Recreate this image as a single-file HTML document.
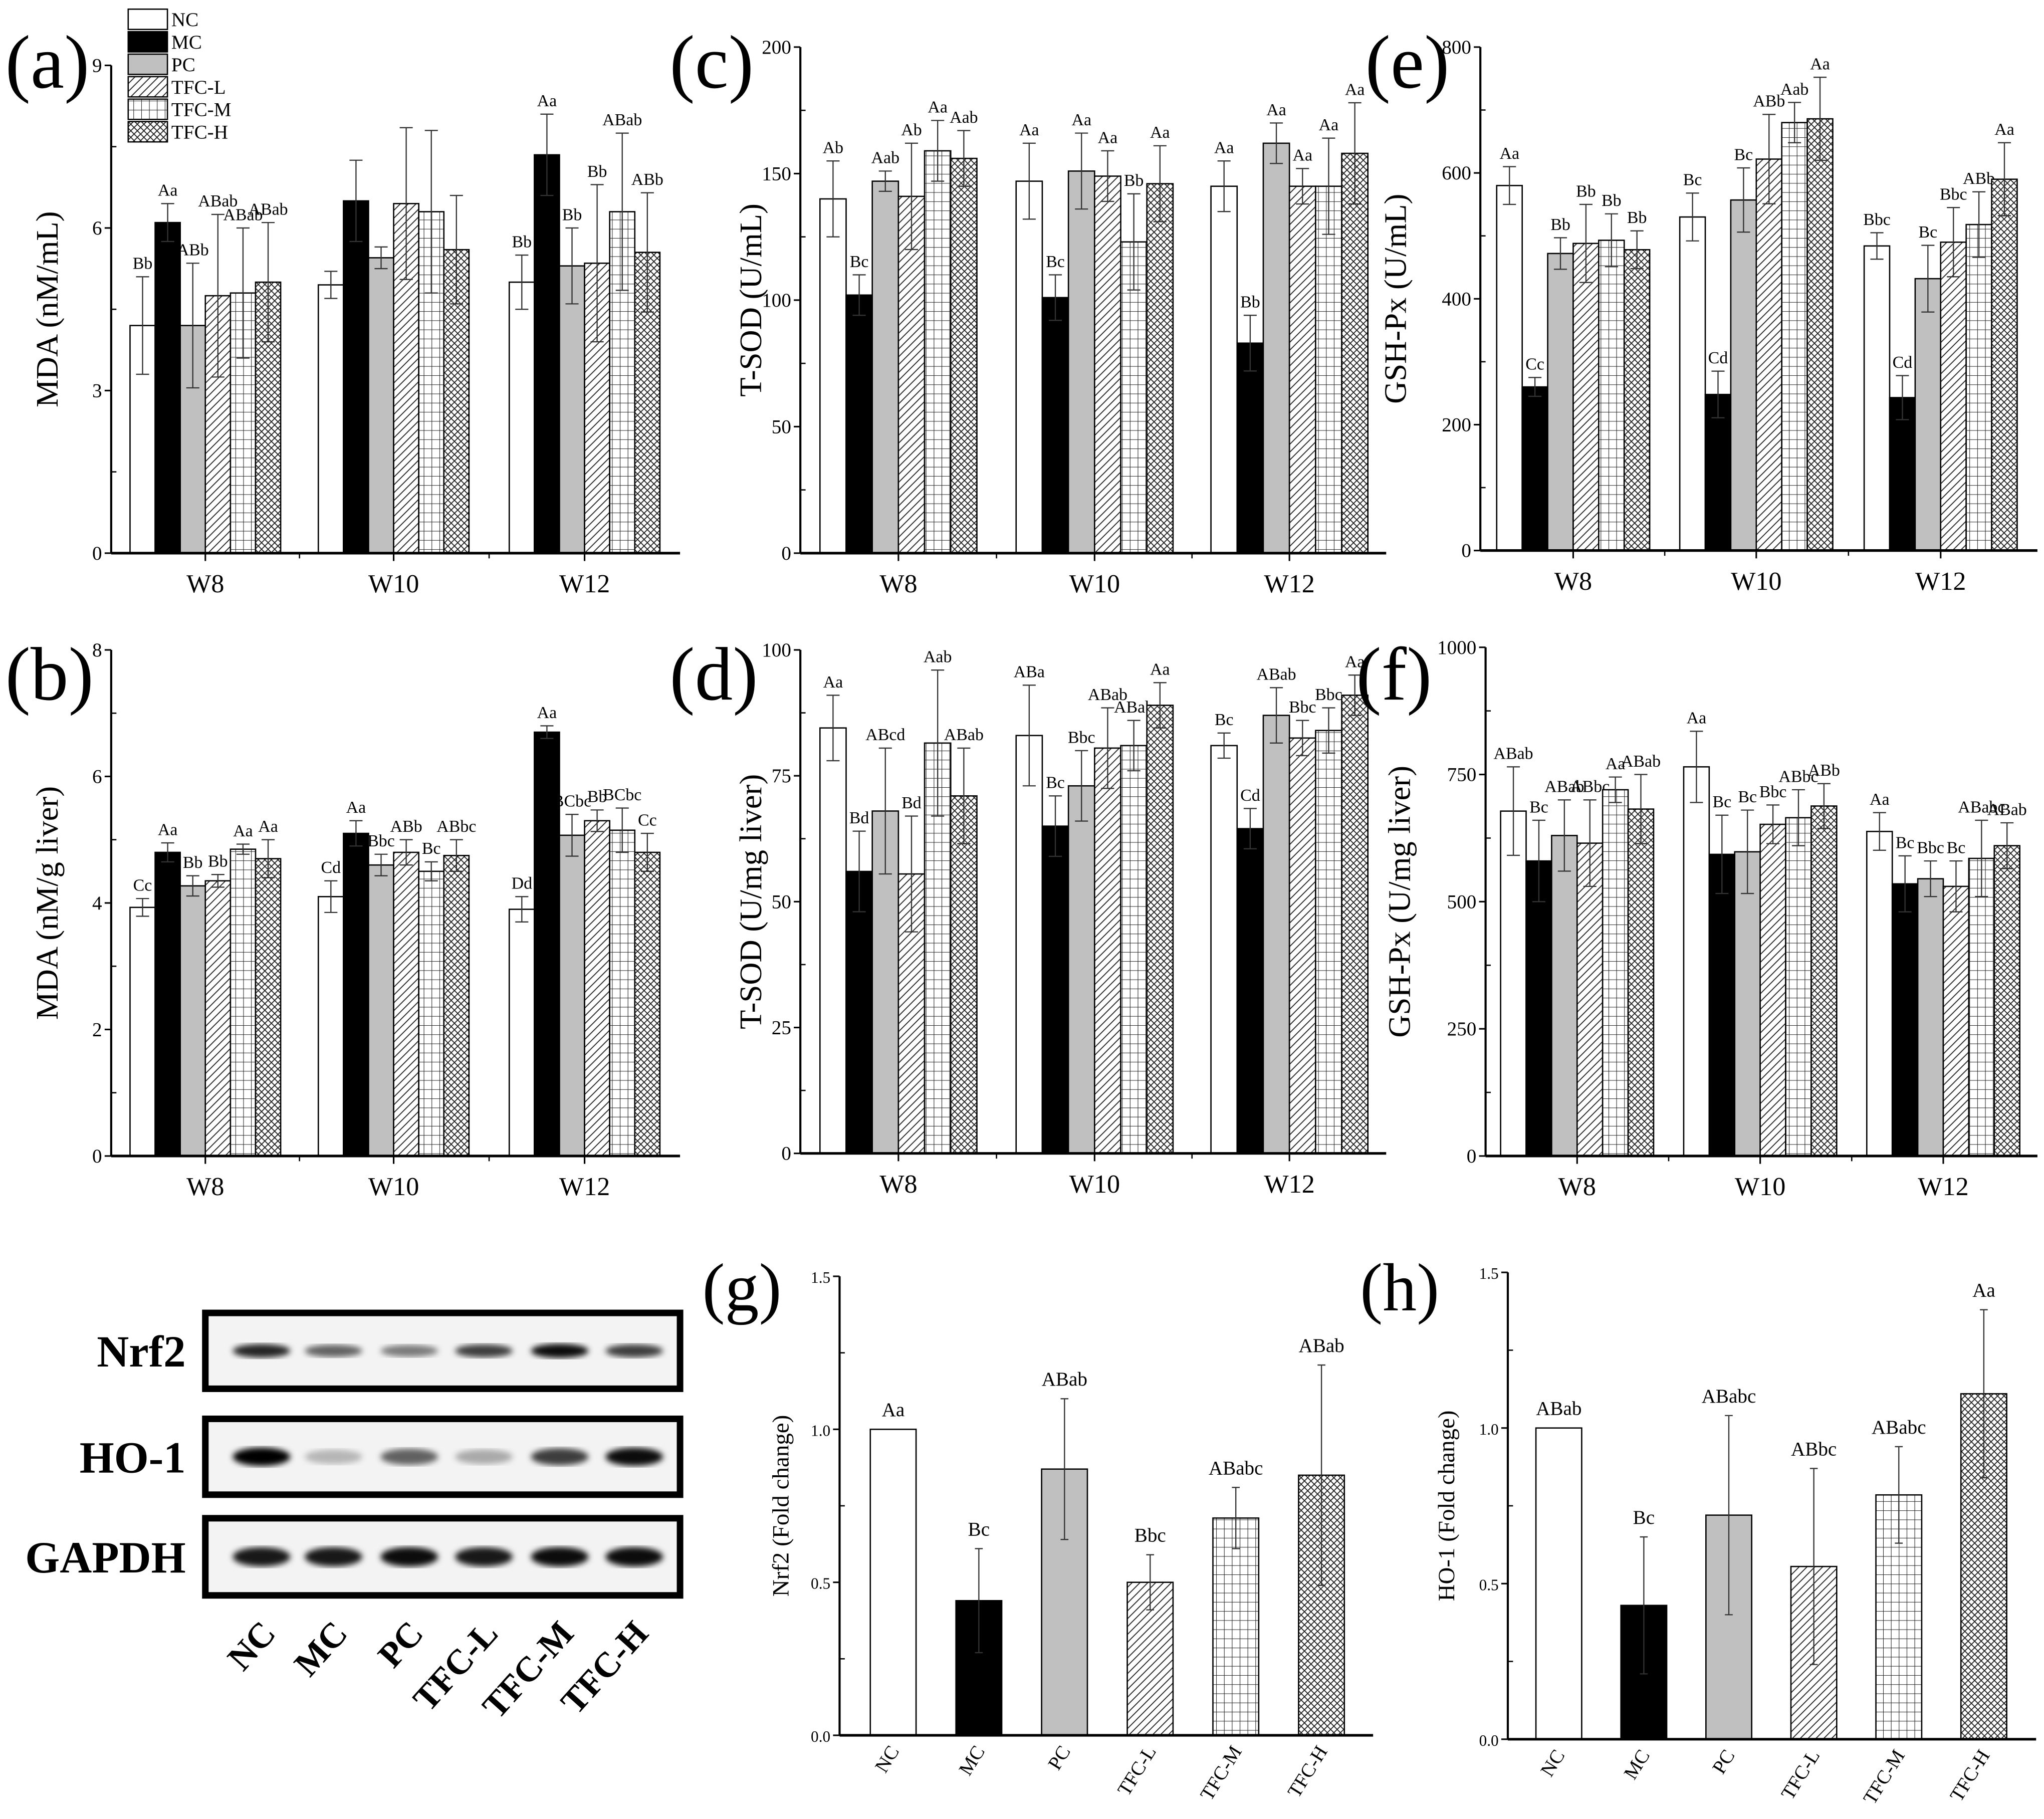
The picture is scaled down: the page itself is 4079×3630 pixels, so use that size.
<!DOCTYPE html>
<html><head><meta charset="utf-8"><style>
html,body{margin:0;padding:0;background:#fff;}
svg{display:block;font-family:"Liberation Serif",serif;}
</style></head><body>
<svg id="fig" xmlns="http://www.w3.org/2000/svg" width="4079" height="3630" viewBox="0 0 1563 1391">
<defs>
<pattern id="p-diag" patternUnits="userSpaceOnUse" width="6" height="6"><rect width="6" height="6" fill="#fff"/><path d="M-1,7 L7,-1 M-4,4 L4,-4 M2,10 L10,2" stroke="#222" stroke-width="0.7"/></pattern>
<pattern id="p-grid" patternUnits="userSpaceOnUse" width="6" height="7"><rect width="6" height="7" fill="#fff"/><path d="M0,0 H6 M0,0 V7" stroke="#222" stroke-width="0.8"/></pattern>
<pattern id="p-cross" patternUnits="userSpaceOnUse" width="5" height="5"><rect width="5" height="5" fill="#fff"/><path d="M0,0 L5,5 M5,0 L0,5" stroke="#222" stroke-width="0.7"/></pattern>
<filter id="blur"><feGaussianBlur stdDeviation="2.2"/></filter>
</defs>
<g id="root"></g>
</svg>
<script>
const NS='http://www.w3.org/2000/svg';
const root=document.getElementById('root');
const fills=['#fff','#000','#c0c0c0','url(#p-diag)','url(#p-grid)','url(#p-cross)'];
const groups=['NC','MC','PC','TFC-L','TFC-M','TFC-H'];
const weeks=['W8','W10','W12'];

// panel a
const aVals=[[4.2,6.1,4.2,4.75,4.8,5.0],[4.95,6.5,5.45,6.45,6.3,5.6],[5.0,7.35,5.3,5.35,6.3,5.55]];
const aErr=[[0.9,0.35,1.15,1.5,1.2,1.1],[0.25,0.75,0.2,1.4,1.5,1.0],[0.5,0.75,0.7,1.45,1.45,1.1]];
const aLab=[['Bb','Aa','ABb','ABab','ABab','ABab'],['','','','','',''],['Bb','Aa','Bb','Bb','ABab','ABb']];
const aTicks=[0,3,6,9];
// panel c
const cVals=[[140,102,147,141,159,156],[147,101,151,149,123,146],[145,83,162,145,145,158]];
const cErr=[[15,8,4,21,12,11],[15,9,15,10,19,15],[10,11,8,7,19,20]];
const cLab=[['Ab','Bc','Aab','Ab','Aa','Aab'],['Aa','Bc','Aa','Aa','Bb','Aa'],['Aa','Bb','Aa','Aa','Aa','Aa']];
const cTicks=[0,50,100,150,200];
// panel e
const eVals=[[580,260,472,488,493,478],[530,248,557,622,680,686],[484,243,432,490,518,590]];
const eErr=[[30,15,25,62,42,30],[38,37,51,71,32,66],[21,35,53,55,52,58]];
const eLab=[['Aa','Cc','Bb','Bb','Bb','Bb'],['Bc','Cd','Bc','ABb','Aab','Aa'],['Bbc','Cd','Bc','Bbc','ABb','Aa']];
const eTicks=[0,200,400,600,800];
// panel b
const bVals=[[3.93,4.8,4.27,4.35,4.85,4.7],[4.1,5.1,4.6,4.8,4.5,4.75],[3.9,6.7,5.07,5.3,5.15,4.8]];
const bErr=[[0.14,0.15,0.16,0.1,0.08,0.3],[0.25,0.2,0.17,0.2,0.15,0.25],[0.2,0.1,0.33,0.17,0.35,0.3]];
const bLab=[['Cc','Aa','Bb','Bb','Aa','Aa'],['Cd','Aa','Bbc','ABb','Bc','ABbc'],['Dd','Aa','BCbc','Bb','BCbc','Cc']];
const bTicks=[0,2,4,6,8];
// panel d
const dVals=[[84.5,56,68,55.5,81.5,71],[83,65,73,80.5,81,89],[81,64.5,87,82.5,84,91]];
const dErr=[[6.5,8,12.5,11.5,14.5,9.5],[10,6,7,8,5,4.5],[2.5,4,5.5,3.5,4.5,4]];
const dLab=[['Aa','Bd','ABcd','Bd','Aab','ABab'],['ABa','Bc','Bbc','ABab','ABab','Aa'],['Bc','Cd','ABab','Bbc','Bbc','Aa']];
const dTicks=[0,25,50,75,100];
// panel f
const fVals=[[678,580,630,615,720,682],[765,593,598,652,665,688],[638,535,545,530,585,610]];
const fErr=[[87,80,70,85,25,68],[70,77,82,38,55,44],[37,55,35,50,75,45]];
const fLab=[['ABab','Bc','ABab','ABbc','Aa','ABab'],['Aa','Bc','Bc','Bbc','ABbc','ABb'],['Aa','Bc','Bbc','Bc','ABabc','ABab']];
const fTicks=[0,250,500,750,1000];
// panel g
const gVals=[1.0,0.44,0.87,0.5,0.71,0.85];
const gErr=[0,0.17,0.23,0.09,0.1,0.36];
const gLab=['Aa','Bc','ABab','Bbc','ABabc','ABab'];
// panel h
const hVals=[1.0,0.43,0.72,0.555,0.785,1.11];
const hErr=[0,0.22,0.32,0.315,0.155,0.27];
const hLab=['ABab','Bc','ABabc','ABbc','ABabc','Aa'];
const ghTicks=[0,0.5,1.0,1.5];

function el(tag,attrs,parent){const e=document.createElementNS(NS,tag);for(const k in attrs)e.setAttribute(k,attrs[k]);(parent||root).appendChild(e);return e;}
function txt(s,attrs,parent){const e=el('text',attrs,parent);e.textContent=s;return e;}

function yScale(p){return v=>p.y0-(v-p.ticks[0])/(p.ticks[p.ticks.length-1]-p.ticks[0])*(p.y0-p.yTop);}

function axes(p,g){
  const y=yScale(p);
  const ax=el('line',{x1:p.x0,y1:p.y0,x2:p.x0,y2:p.yTop,stroke:'#000','stroke-width':1.6},g);
  
  
  const xa=el('line',{x1:p.x0,y1:p.y0,x2:p.xEnd,y2:p.y0,stroke:'#000','stroke-width':2},g);
  
  
  p.ticks.forEach((t,i)=>{
    el('line',{x1:p.x0-5,y1:y(t),x2:p.x0,y2:y(t),stroke:'#000','stroke-width':1.2},g);
    if(i<p.ticks.length-1){const m=(t+p.ticks[i+1])/2;el('line',{x1:p.x0,y1:y(m),x2:p.x0+4,y2:y(m),stroke:'#000','stroke-width':1},g);}
    const tl=txt(p.fmt?p.fmt(t):String(t),{x:p.x0-7,y:y(t)+5,'text-anchor':'end','font-size':p.tfs||15},g);
    
    
  });
  const yt=txt(p.title,{x:0,y:0,'text-anchor':'middle','font-size':p.titleFs||24,transform:`translate(${p.titleX},${(p.y0+p.yTop)/2}) rotate(-90)`},g);
  
  
  const pl=txt(p.label,{x:p.labX,y:p.labY,'font-size':p.labFs||58},g);
  
  
}

function bar(g,x,w,y,val,err,lab,fill,p,capW){
  const yv=y(val),y0=y(0);
  const r=el('rect',{x:x-w/2,y:yv,width:w,height:y0-yv,fill:fill,stroke:'#000','stroke-width':1},g);
  
  
  if(err>0){
    const yt=y(val+err),yb=y(val-err);
    const eb=el('path',{d:`M${x},${yt}V${yb}M${x-capW},${yt}H${x+capW}M${x-capW},${yb}H${x+capW}`,stroke:'#333','stroke-width':0.9,fill:'none'},g);
    
    
  }
  if(lab){
    const l=txt(lab,{x:x,y:y(val+err)-(p.lgap||6),'text-anchor':'middle','font-size':p.lfs||13},g);
    
    
  }
}

function groupPanel(p,vals,err,labs,name){
  const g=el('g',{});
  
  
  const y=yScale(p);
  vals.forEach((wk,wi)=>{
    const c=p.centers[wi];
    wk.forEach((v,si)=>{
      const x=c+(si-2.5)*p.bw;
      bar(g,x,p.bw,y,v,err[wi][si],labs[wi][si],fills[si],p,5);
    });
  });
  axes(p,g);
  p.centers.forEach((c,wi)=>{
    el('line',{x1:c,y1:p.y0,x2:c,y2:p.y0+6,stroke:'#000','stroke-width':1.2},g);
    if(wi<p.centers.length-1){const m=(c+p.centers[wi+1])/2;el('line',{x1:m,y1:p.y0,x2:m,y2:p.y0+4,stroke:'#000','stroke-width':1},g);}
    const t=txt(weeks[wi],{x:c,y:p.y0+30,'text-anchor':'middle','font-size':20},g);
    
    
  });
}

function singlePanel(p,vals,err,labs,name){
  const g=el('g',{});
  
  
  const y=yScale(p);
  vals.forEach((v,i)=>{
    const x=p.first+i*p.step;
    bar(g,x,35,y,v,err[i],labs[i],fills[i],p,3);
    const t=txt(groups[i],{x:0,y:0,'text-anchor':'end','font-size':15,transform:`translate(${x+5},${p.y0+12}) rotate(-58)`},g);
    
    
  });
  axes(p,g);
}

const fmt1=t=>t.toFixed(1);
groupPanel({x0:85,xEnd:520,y0:423,yTop:50,ticks:aTicks,centers:[157,301,447],bw:19.2,title:'MDA (nM/mL)',titleX:44,label:'(a)',labX:4,labY:67},aVals,aErr,aLab,'panel-a-serum-mda');
groupPanel({x0:612,xEnd:1060,y0:423,yTop:36,ticks:cTicks,centers:[687,837,986],bw:20,title:'T-SOD (U/mL)',titleX:582,label:'(c)',labX:512,labY:67},cVals,cErr,cLab,'panel-c-serum-tsod');
groupPanel({x0:1132,xEnd:1558,y0:421,yTop:36,ticks:eTicks,centers:[1203,1343,1484],bw:19.5,title:'GSH-Px (U/mL)',titleX:1075,label:'(e)',labX:1044,labY:67},eVals,eErr,eLab,'panel-e-serum-gshpx');
groupPanel({x0:85,xEnd:520,y0:884,yTop:497,ticks:bTicks,centers:[157,301,447],bw:19.2,title:'MDA (nM/g liver)',titleX:44,label:'(b)',labX:4,labY:535},bVals,bErr,bLab,'panel-b-liver-mda');
groupPanel({x0:612,xEnd:1060,y0:882,yTop:497,ticks:dTicks,centers:[687,837,986],bw:20,title:'T-SOD (U/mg liver)',titleX:582,label:'(d)',labX:512,labY:535},dVals,dErr,dLab,'panel-d-liver-tsod');
groupPanel({x0:1136,xEnd:1558,y0:884,yTop:495,ticks:fTicks,centers:[1206,1346,1486],bw:19.5,title:'GSH-Px (U/mg liver)',titleX:1078,label:'(f)',labX:1037,labY:535},fVals,fErr,fLab,'panel-f-liver-gshpx');
singlePanel({x0:642,xEnd:1050,y0:1327,yTop:976,ticks:ghTicks,fmt:fmt1,tfs:12,first:683,step:65.5,title:'Nrf2 (Fold change)',titleX:603,titleFs:18,label:'(g)',labX:537,labY:1002,labFs:52,lfs:15,lgap:10},gVals,gErr,gLab,'panel-g-nrf2');
singlePanel({x0:1153,xEnd:1557,y0:1330,yTop:973,ticks:ghTicks,fmt:fmt1,tfs:12,first:1192,step:65,title:'HO-1 (Fold change)',titleX:1112,titleFs:18,label:'(h)',labX:1040,labY:1002,labFs:52,lfs:15,lgap:10},hVals,hErr,hLab,'panel-h-ho1');

// legend
const lg=el('g',{});


groups.forEach((n,i)=>{
  const yy=7+i*17.2;
  const r=el('rect',{x:98,y:yy,width:30,height:15.5,fill:fills[i],stroke:'#000','stroke-width':1},lg);
  
  
  const t=txt(n,{x:131,y:yy+13,'font-size':15},lg);
  
  
});

// western blot
const blotLanes=[200,255,313,370,428,485];
const nrf2Int=[0.85,0.6,0.5,0.75,0.95,0.75];
const ho1Int=[1.0,0.25,0.6,0.3,0.75,0.95];
const gapdhInt=[0.9,0.9,0.95,0.9,0.95,0.95];
const blots=[['Nrf2',1004,1062,nrf2Int,7],['HO-1',1085,1143,ho1Int,10],['GAPDH',1161,1220,gapdhInt,11]];
const wb=el('g',{});


blots.forEach(([n,y1,y2,ints,h])=>{
  const bx=el('rect',{x:157,y:y1,width:363,height:y2-y1,fill:'#f3f3f3',stroke:'#000','stroke-width':5},wb);
  
  
  const cy=(y1+y2)/2;
  blotLanes.forEach((x,i)=>{
    const b=el('ellipse',{cx:x,cy:cy,rx:22,ry:h/2+ints[i]*2,fill:'#000','fill-opacity':ints[i],filter:'url(#blur)'},wb);
    
    
  });
  const t=txt(n,{x:142,y:cy+12,'text-anchor':'end','font-size':34,'font-weight':'bold'},wb);
  
  
});
groups.forEach((n,i)=>{
  const t=txt(n,{x:0,y:0,'text-anchor':'end','font-size':27,'font-weight':'bold',transform:`translate(${blotLanes[i]+12},${1250}) rotate(-48)`},wb);
  
  
});
</script>
</body></html>
